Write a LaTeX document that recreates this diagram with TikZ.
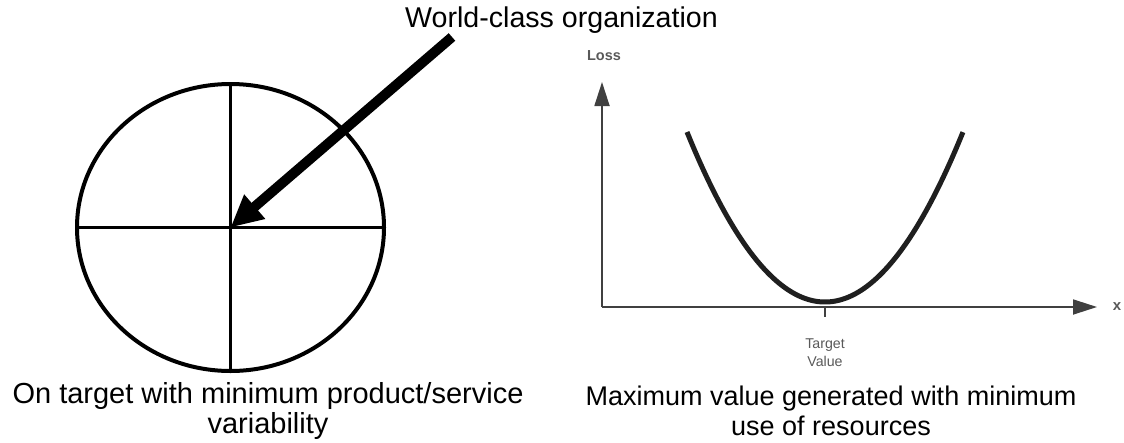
\documentclass[tikz,border=0pt]{standalone}
\usepackage{fontspec}
\setmainfont{Liberation Sans}
\usetikzlibrary{arrows.meta,positioning,shapes.geometric}

\begin{document}
\begin{tikzpicture}[
  x=1pt, y=-1pt,
  font=\fontsize{27}{30}\selectfont,
  captext/.style={align=center, inner sep=0pt},
  dial/.style={draw, ellipse, line width=4pt, inner sep=0pt,
    minimum width=307pt, minimum height=287pt},
  cross/.style={line width=3.5pt},
  bigarr/.style={-{Triangle[length=32pt, width=30pt]}, line width=10pt},
  axis/.style={-{Triangle[length=24pt, width=15pt]}, line width=1.8pt,
    draw=black!75},
  loss/.style={line width=5pt, draw=black!88},
  glbl/.style={font=\fontsize{14.2}{18}\selectfont, text=black!65,
    align=center, inner sep=0pt}
]
  \useasboundingbox (0,0) rectangle (1124,442);

  % target on the left
  \node[dial] (target) at (230.5,227.5) {};
  \draw[cross] (target.north) -- (target.south);
  \draw[cross] (target.west) -- (target.east);

  \node[captext, anchor=base, font=\fontsize{28.6}{32}\selectfont]
    (title) at (561.5,27) {World-class organization};
  \coordinate (shaft) at (452,37);
  \draw[bigarr] (shaft) -- (target.center);

  \node[captext, font=\fontsize{29}{30}\selectfont] (capl) at (268,411)
    {On target with minimum product/service\\variability};

  % loss function on the right
  \coordinate (origin) at (602,307);
  \coordinate (ytop) at (602,82);
  \coordinate (xend) at (1097,307);
  \coordinate (tick) at (825,317);
  \draw[axis] (origin) -- (ytop);
  \draw[axis] (origin) -- (xend);
  \draw[line width=1.5pt, draw=black!75] (origin -| tick) -- (tick);
  \draw[loss] plot[domain=-1.38:1.38, samples=60, smooth]
    ({825+100*\x}, {302-89.27*\x*\x});

  \node[glbl, font=\fontsize{14.5}{18}\selectfont\bfseries] (ylbl) at (604,56) {Loss};
  \node[glbl, font=\fontsize{15}{18}\selectfont\bfseries] (xlbl) at (1117,307) {x};
  \node[glbl] (tval) at (825,353) {Target\\Value};

  \node[captext] (capr) at (831,411)
    {Maximum value generated with minimum\\use of resources};
\end{tikzpicture}
\end{document}
